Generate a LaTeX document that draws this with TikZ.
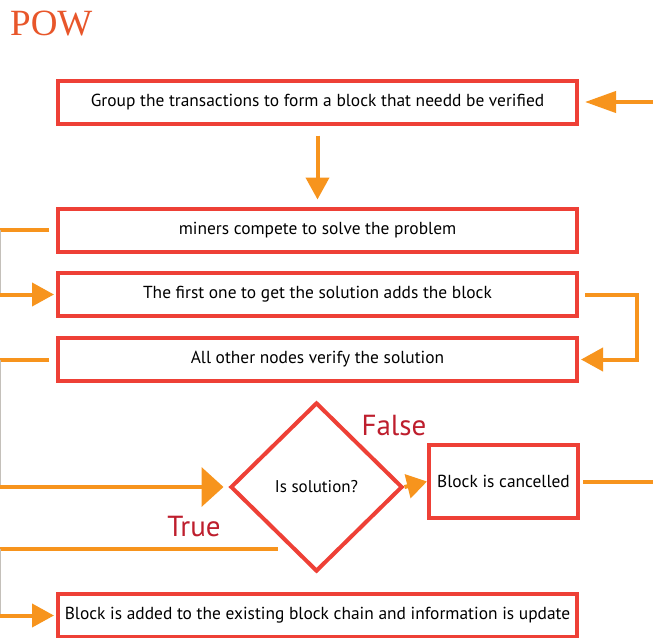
\documentclass[tikz,border=0pt]{standalone}
\usepackage{fontspec}
\setmainfont{PT Sans}
\newfontfamily\titlefont{Liberation Serif}
\usetikzlibrary{arrows.meta,shapes.geometric,calc}
\definecolor{boxred}{HTML}{EE4036}
\definecolor{flow}{HTML}{F7941D}
\definecolor{tagred}{HTML}{BE1E2D}
\definecolor{titleor}{HTML}{E8562A}
\definecolor{railgray}{HTML}{C4C0BA}

\begin{document}
\begin{tikzpicture}[x=1pt,y=-1pt,
  stepbox/.style={draw=boxred, line width=4pt, fill=white, minimum width=519pt,
    minimum height=43pt, inner sep=2pt, font=\fontsize{17.4}{20}\selectfont},
  flowline/.style={draw=flow, line width=4pt},
  flowarrow/.style={flowline, -{Triangle[length=22pt,width=23pt]}},
  rail/.style={draw=railgray, line width=1.5pt},
  tag/.style={text=tagred, font=\fontsize{29}{32}\selectfont, inner sep=0pt}]

\fill[white] (0,0) rectangle (653,637);
\useasboundingbox (0,0) rectangle (653,637);
\coordinate (edge) at (0,0);

% title
\node[anchor=base west, text=titleor, inner sep=0pt,
  font=\titlefont\fontsize{37}{42}\selectfont] (title) at (10,35) {POW};

% process steps
\node[stepbox] (group)  at (317.5,102)   {Group the transactions to form a block that needd be verified};
\node[stepbox] (miners) at (317.5,230)   {miners compete to solve the problem};
\node[stepbox] (first)  at (317.5,294.5) {The first one to get the solution adds the block};
\node[stepbox] (verify) at (317.5,359.5) {All other nodes verify the solution};
\node[draw=boxred, line width=4pt, diamond, minimum width=172pt, minimum height=169pt,
  inner sep=0pt, font=\fontsize{17}{20}\selectfont] (check) at (316.5,487) {Is solution?};
\node[draw=boxred, line width=4pt, fill=white, minimum width=149pt, minimum height=73pt,
  font=\fontsize{17.4}{20}\selectfont] (cancel) at (503.5,481.5) {\raisebox{-3pt}{Block is cancelled}};
\node[stepbox] (added)  at (317.5,615.5) {Block is added to the existing block chain and information is update};

% branch labels
\node[tag] (false) at (394,426) {False};
\node[tag] (true)  at (194,527) {True};

% incoming feed at the top
\coordinate (feed) at (653,102);
\draw[flowline, -{Triangle[length=31pt,width=21pt]}, shorten >=6pt] (feed) -- (group.east);

% step 1 -> step 2
\draw[flowarrow, shorten <=10pt, shorten >=7pt] (group.south) -- (miners.north);

% step 2 -> step 3 along the left edge
\coordinate (l1a) at (edge |- miners.west);
\coordinate (l1b) at (edge |- first.west);
\draw[flowline, shorten <=7pt] (miners.west) -- (l1a);
\draw[rail] (l1a) -- (l1b);
\draw[flowarrow, shorten >=2pt] (l1b) -- (first.west);

% step 3 -> step 4 along the right side
\coordinate (r1) at (637,294.5);
\coordinate (r2) at (637,359.5);
\draw[flowarrow, shorten <=6pt, shorten >=2pt] (first.east) -- (r1) -- (r2) -- (verify.east);

% step 4 -> decision along the left edge
\coordinate (l2a) at (edge |- verify.west);
\coordinate (l2b) at (edge |- check.west);
\draw[flowline, shorten <=7pt] (verify.west) -- (l2a);
\draw[rail] (l2a) -- (l2b);
\draw[flowline, -{Triangle[length=22pt,width=39pt]}, shorten >=5pt] (l2b) -- (check.west);

% decision: false branch
\draw[flowline, -{Triangle[length=20pt,width=24pt]}] (check.east) -- (cancel.west);
\coordinate (drop) at (653,481.5);
\draw[flowline, shorten <=3pt] (cancel.east) -- (drop);

% decision: true branch
\coordinate (t0) at ($(check.west)!0.72!(check.south)$);
\coordinate (l3a) at (edge |- t0);
\coordinate (l3b) at (edge |- added.west);
\draw[flowline, shorten <=14pt] (t0) -- (l3a);
\draw[rail] (l3a) -- (l3b);
\draw[flowarrow, shorten >=2pt] (l3b) -- (added.west);
\end{tikzpicture}
\end{document}
